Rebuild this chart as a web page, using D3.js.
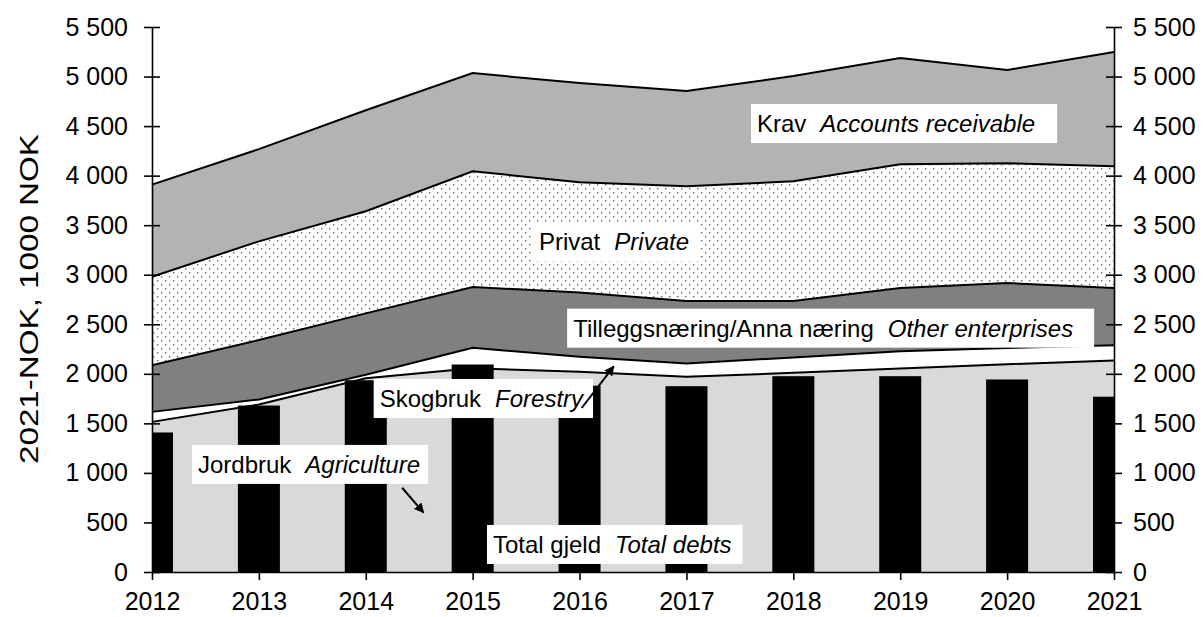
<!DOCTYPE html>
<meta charset="utf-8">
<style>
body { margin: 0; background: #fff; }
svg text { font-family: "Liberation Sans", Arial, sans-serif; fill: #000; }
.axis path, .axis line { stroke: #000; stroke-width: 1.6px; }
.edge { fill: none; stroke: #000; stroke-width: 2px; }
.note rect { fill: #fff; }
</style>
<body>
<script src="https://cdn.jsdelivr.net/npm/d3@7"></script>
<script>
// data (1000 NOK, 2021 value)
var years = [2012, 2013, 2014, 2015, 2016, 2017, 2018, 2019, 2020, 2021];
var agriculture = [1515, 1690, 1955, 2055, 2020, 1970, 2010, 2053, 2097, 2135];
var forestry    = [101, 51, 35, 207, 152, 135, 155, 175, 163, 153];
var otherEnt    = [471, 600, 620, 614, 648, 630, 570, 638, 656, 578];
var privat      = [893, 996, 1030, 1168, 1113, 1158, 1208, 1249, 1209, 1229];
var receivable  = [929, 930, 1020, 991, 1001, 960, 1062, 1072, 941, 1153];
var totalDebts  = [1408, 1680, 1935, 2094, 1880, 1875, 1976, 1976, 1943, 1769];
var yTicks = [0, 500, 1000, 1500, 2000, 2500, 3000, 3500, 4000, 4500, 5000, 5500];

var keys = ["agriculture", "forestry", "otherEnt", "privat", "receivable"];
var fills = {agriculture: "#d9d9d9", forestry: "#ffffff", otherEnt: "#808080",
             privat: "url(#dots)", receivable: "#b3b3b3"};

var table = years.map(function(y, i) {
  return {year: y, agriculture: agriculture[i], forestry: forestry[i],
          otherEnt: otherEnt[i], privat: privat[i], receivable: receivable[i],
          total: totalDebts[i]};
});

// labels: two-part text, anchored in data units (start of text, baseline)
var notes = [
  {no: "Krav", en: "Accounts receivable", year: 2017.66, value: 4440, padR: 22},
  {no: "Privat", en: "Private", year: 2015.62, value: 3250, padR: 12},
  {no: "Tilleggsnæring/Anna næring", en: "Other enterprises", year: 2015.94, value: 2375, padR: 21},
  {no: "Skogbruk", en: "Forestry", year: 2014.13, value: 1665, padR: 8},
  {no: "Jordbruk", en: "Agriculture", year: 2012.43, value: 1000, padR: 8},
  {no: "Total gjeld", en: "Total debts", year: 2015.19, value: 192, padR: 11}
];
var arrows = [
  {from: [2014.34, 850], to: [2014.54, 600]},
  {from: [2016.02, 1655], to: [2016.32, 2075]}
];

var margin = {top: 27, right: 90, bottom: 45, left: 152},
    width = 1114 - 152,
    height = 572 - 27;

var x = d3.scaleLinear().domain([2012, 2021]).range([0, width]);
var y = d3.scaleLinear().domain([0, 5500]).range([height, 0]);

var nok = d3.formatLocale({decimal: ",", thousands: " ", grouping: [3], currency: ["", ""]}).format(",d");

var svg = d3.select("body").append("svg")
    .attr("width", 1204)
    .attr("height", 617);

var defs = svg.append("defs");
var pat = defs.append("pattern")
    .attr("id", "dots")
    .attr("patternUnits", "userSpaceOnUse")
    .attr("width", 8).attr("height", 8);
pat.append("rect").attr("width", 8).attr("height", 8).attr("fill", "#fff");
pat.append("rect").attr("x", 1).attr("y", 1).attr("width", 1.4).attr("height", 1.4).attr("fill", "#666");
pat.append("rect").attr("x", 5).attr("y", 5).attr("width", 1.4).attr("height", 1.4).attr("fill", "#666");

defs.append("clipPath").attr("id", "plot")
  .append("rect").attr("width", width).attr("height", height);

defs.append("marker")
    .attr("id", "head")
    .attr("viewBox", "0 0 10 10")
    .attr("refX", 9).attr("refY", 5)
    .attr("markerWidth", 5).attr("markerHeight", 5)
    .attr("markerUnits", "strokeWidth")
    .attr("orient", "auto")
  .append("path").attr("d", "M0,0L10,5L0,10z").attr("fill", "#000");

var g = svg.append("g")
    .attr("transform", "translate(" + margin.left + "," + margin.top + ")");

var series = d3.stack().keys(keys)(table);

var area = d3.area()
    .x(function(d) { return x(d.data.year); })
    .y0(function(d) { return y(d[0]); })
    .y1(function(d) { return y(d[1]); });

var topLine = d3.line()
    .x(function(d) { return x(d.data.year); })
    .y(function(d) { return y(d[1]); });

g.selectAll(".layer")
    .data(series)
  .enter().append("path")
    .attr("class", "layer")
    .attr("fill", function(d) { return fills[d.key]; })
    .attr("d", area);

g.selectAll(".edge")
    .data(series)
  .enter().append("path")
    .attr("class", "edge")
    .attr("d", topLine);

// total debts bars
g.append("g")
    .attr("clip-path", "url(#plot)")
  .selectAll("rect")
    .data(table)
  .enter().append("rect")
    .attr("x", function(d) { return x(d.year) - 21; })
    .attr("width", 42)
    .attr("y", function(d) { return y(d.total); })
    .attr("height", function(d) { return height - y(d.total); })
    .attr("fill", "#000");

// labels
var note = g.selectAll(".note")
    .data(notes)
  .enter().append("g")
    .attr("class", "note");

note.append("rect");
var txt = note.append("text")
    .attr("x", function(d) { return x(d.year); })
    .attr("y", function(d) { return y(d.value); })
    .style("font-size", "24px");
txt.append("tspan").text(function(d) { return d.no; });
txt.append("tspan").attr("dx", 14).style("font-style", "italic").text(function(d) { return d.en; });

note.each(function(d) {
  var b = d3.select(this).select("text").node().getBBox();
  d3.select(this).select("rect")
      .attr("x", b.x - 6)
      .attr("y", y(d.value) - 28)
      .attr("width", b.width + 6 + d.padR)
      .attr("height", 39);
});

g.selectAll(".arrow")
    .data(arrows)
  .enter().append("line")
    .attr("class", "arrow")
    .attr("x1", function(d) { return x(d.from[0]); })
    .attr("y1", function(d) { return y(d.from[1]); })
    .attr("x2", function(d) { return x(d.to[0]); })
    .attr("y2", function(d) { return y(d.to[1]); })
    .attr("stroke", "#000")
    .attr("stroke-width", 2)
    .attr("marker-end", "url(#head)");

// axes
g.append("g")
    .attr("class", "axis")
    .attr("transform", "translate(0," + height + ")")
    .call(d3.axisBottom(x).tickValues(years).tickFormat(d3.format("d"))
      .tickSize(8).tickSizeOuter(0).tickPadding(12));

var yLeft = g.append("g")
    .attr("class", "axis")
    .call(d3.axisLeft(y).tickValues(yTicks).tickFormat(nok)
      .tickSize(8).tickSizeOuter(0).tickPadding(16));
yLeft.selectAll(".tick line").attr("x1", 8);

var yRight = g.append("g")
    .attr("class", "axis")
    .attr("transform", "translate(" + width + ",0)")
    .call(d3.axisRight(y).tickValues(yTicks).tickFormat(nok)
      .tickSize(8).tickSizeOuter(0).tickPadding(11));
yRight.selectAll(".tick line").attr("x1", -8);

g.selectAll(".axis text")
    .style("font-family", "'Liberation Sans', Arial, sans-serif")
    .style("font-size", "25px");

svg.append("text")
    .attr("transform", "translate(38,299) rotate(-90)")
    .attr("text-anchor", "middle")
    .attr("textLength", 330)
    .attr("lengthAdjust", "spacingAndGlyphs")
    .style("font-size", "25px")
    .text("2021-NOK, 1000 NOK");
</script>
</body>
